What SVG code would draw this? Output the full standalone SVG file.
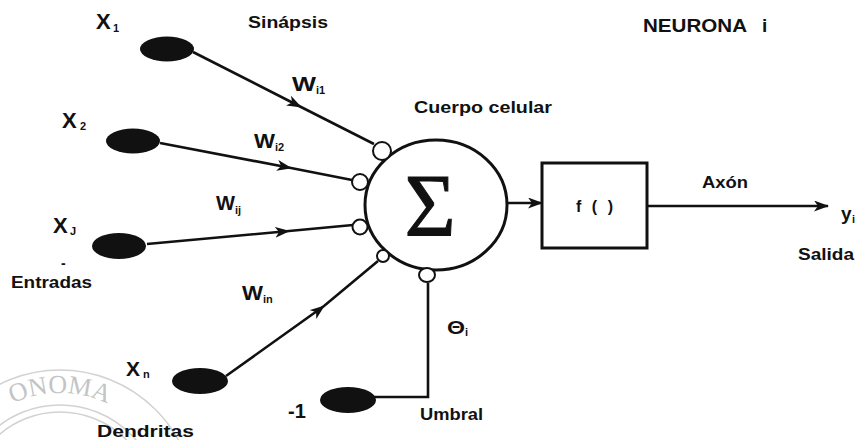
<svg xmlns="http://www.w3.org/2000/svg" width="858" height="440" viewBox="0 0 858 440">
<style>
.t{font-family:"Liberation Sans",Arial,sans-serif;font-weight:bold;fill:#111}
.sub{font-family:"Liberation Sans",Arial,sans-serif;font-weight:bold;fill:#111;font-size:11px}
.ln{fill:none;stroke:#111;stroke-width:2.6}
.syn{fill:#fff;stroke:#111;stroke-width:2}
.inp{fill:#111}
.wm{fill:none;stroke:#d2d2d2;stroke-width:1.5}
</style>
<defs>
<marker id="ah" markerUnits="userSpaceOnUse" markerWidth="16" markerHeight="12" refX="14" refY="5.5" orient="auto">
<path d="M0,0 L15,5.5 L0,11 L4,5.5 z" fill="#111"/>
</marker>
<path id="wmArc" d="M -52,505 A 112,112 0 0 1 172,505"/>
</defs>
<rect width="858" height="440" fill="#fff"/>
<g id="watermark">
<circle class="wm" cx="60" cy="505" r="135"/>
<circle class="wm" cx="60" cy="505" r="100"/>
<circle class="wm" cx="60" cy="505" r="93"/>
<text font-family="Liberation Serif,serif" font-size="26" fill="#c4c4c4"><textPath href="#wmArc" startOffset="50%" text-anchor="middle">ONOMA</textPath></text>
</g>
<g id="connectors">
<path class="ln" d="M193,52 L301,107 L374,144" marker-mid="url(#ah)"/>
<path class="ln" d="M160,143 L291,168 L352,180" marker-mid="url(#ah)"/>
<path class="ln" d="M147,244 L289,231 L353,225" marker-mid="url(#ah)"/>
<path class="ln" d="M226,376 L324,306 L378,261" marker-mid="url(#ah)"/>
<path class="ln" stroke-width="2.2" d="M374,397 L428,397 L428,283"/>
<path class="ln" d="M507,203 L542,203" marker-end="url(#ah)"/>
<path class="ln" d="M647,206 L828,206" marker-end="url(#ah)"/>
</g>
<g id="x1"><ellipse class="inp" cx="167" cy="49" rx="27" ry="12.5"/></g>
<g id="x2"><ellipse class="inp" cx="133" cy="141" rx="27" ry="12.5"/></g>
<g id="xj"><ellipse class="inp" cx="119" cy="246" rx="27" ry="13"/></g>
<g id="xn"><ellipse class="inp" cx="200" cy="381" rx="28" ry="13"/></g>
<g id="bias"><ellipse class="inp" cx="348" cy="400" rx="28" ry="13"/></g>
<g id="soma">
<ellipse cx="436" cy="205" rx="71" ry="65" fill="#fff" stroke="#111" stroke-width="3"/>
<text x="430" y="235" text-anchor="middle" font-family="Liberation Serif,serif" font-size="88" fill="#111" stroke="#111" stroke-width="1">Σ</text>
</g>
<g id="synapses">
<circle class="syn" cx="382" cy="151" r="9"/>
<circle class="syn" cx="360" cy="182" r="8"/>
<circle class="syn" cx="360" cy="227" r="7.5"/>
<circle class="syn" cx="383" cy="256" r="6"/>
<ellipse class="syn" cx="427" cy="275" rx="8" ry="7"/>
</g>
<g id="activation">
<rect x="542" y="163" width="105" height="85" fill="#fff" stroke="#111" stroke-width="3"/>
<text class="t" x="576" y="212" font-size="16" textLength="37" lengthAdjust="spacing">f ( )</text>
</g>
<g id="labels">
<text class="t" x="96" y="29" font-size="22">X</text><text class="sub" x="113" y="32" font-size="10">1</text>
<text class="t" x="248" y="28" font-size="17" textLength="80" lengthAdjust="spacingAndGlyphs">Sinápsis</text>
<text class="t" x="643" y="32" font-size="19" textLength="104" lengthAdjust="spacingAndGlyphs">NEURONA</text>
<text class="t" x="762" y="32" font-size="19">i</text>
<text class="t" x="292" y="91" font-size="20" textLength="24" lengthAdjust="spacingAndGlyphs">W</text><text class="sub" x="316" y="94" font-size="9">i1</text>
<text class="t" x="414" y="113" font-size="16" textLength="138" lengthAdjust="spacingAndGlyphs">Cuerpo celular</text>
<text class="t" x="62" y="128" font-size="22">X</text><text class="sub" x="80" y="130" font-size="10">2</text>
<text class="t" x="254" y="148" font-size="20" textLength="21" lengthAdjust="spacingAndGlyphs">W</text><text class="sub" x="275" y="151" font-size="9">i2</text>
<text class="t" x="216" y="210" font-size="20" textLength="19" lengthAdjust="spacingAndGlyphs">W</text><text class="sub" x="235" y="214" font-size="9">ij</text>
<text class="t" x="53" y="233" font-size="22">X</text><text class="sub" x="70" y="235" font-size="10">J</text>
<text class="t" x="61" y="268" font-size="14">-</text>
<text class="t" x="11" y="288" font-size="17" textLength="81" lengthAdjust="spacingAndGlyphs">Entradas</text>
<text class="t" x="242" y="300" font-size="20" textLength="21" lengthAdjust="spacingAndGlyphs">W</text><text class="sub" x="263" y="303" font-size="9">in</text>
<text class="t" x="447" y="334" font-size="19" textLength="18" lengthAdjust="spacingAndGlyphs">Θ</text><text class="sub" x="465" y="336" font-size="10">i</text>
<text class="t" x="126" y="376" font-size="21">X</text><text class="sub" x="143" y="378" font-size="10">n</text>
<text class="t" x="288" y="418" font-size="20">-1</text>
<text class="t" x="420" y="420" font-size="16" textLength="63" lengthAdjust="spacingAndGlyphs">Umbral</text>
<text class="t" x="97" y="437" font-size="17" textLength="97" lengthAdjust="spacingAndGlyphs">Dendritas</text>
<text class="t" x="702" y="188" font-size="16" textLength="46" lengthAdjust="spacingAndGlyphs">Axón</text>
<text class="t" x="841" y="220" font-size="19">y</text><text class="sub" x="852" y="223" font-size="9">i</text>
<text class="t" x="798" y="260" font-size="16" textLength="56" lengthAdjust="spacingAndGlyphs">Salida</text>
</g>
</svg>
